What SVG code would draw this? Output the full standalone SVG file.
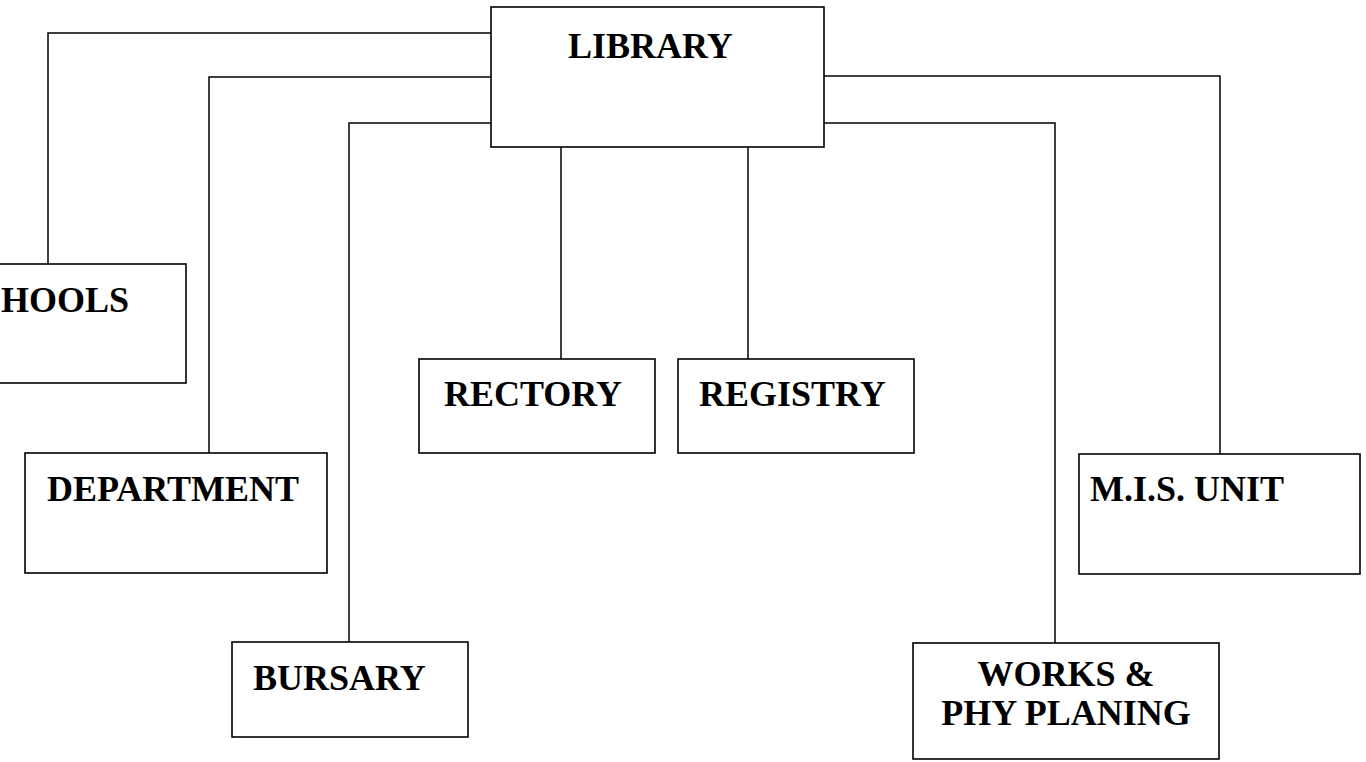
<svg xmlns="http://www.w3.org/2000/svg" width="1366" height="762" viewBox="0 0 1366 762">
<style>
.box{fill:#fff;stroke:#000;stroke-width:1.6}
.lbl{font-family:"Liberation Serif","Times New Roman",serif;font-weight:bold;font-size:36px;fill:#000}
.con{fill:none;stroke:#000;stroke-width:1.5}
</style>
<rect width="1366" height="762" fill="#fff"/>
<g id="connectors">
<path class="con" d="M491 33 H48 V264"/>
<path class="con" d="M491 77 H209 V453"/>
<path class="con" d="M491 123 H349 V642"/>
<path class="con" d="M561 147 V359"/>
<path class="con" d="M748 147 V359"/>
<path class="con" d="M824 76 H1220 V454"/>
<path class="con" d="M824 123 H1055 V643"/>
</g>
<g id="library"><rect class="box" x="491" y="7" width="333" height="140"/><text class="lbl" x="568" y="58">LIBRARY</text></g>
<g id="schools"><rect class="box" x="-10" y="264" width="196" height="119"/><text class="lbl" x="1" y="312">HOOLS</text></g>
<g id="rectory"><rect class="box" x="419" y="359" width="236" height="94"/><text class="lbl" x="444" y="406">RECTORY</text></g>
<g id="registry"><rect class="box" x="678" y="359" width="236" height="94"/><text class="lbl" x="699" y="406">REGISTRY</text></g>
<g id="department"><rect class="box" x="25" y="453" width="302" height="120"/><text class="lbl" x="47" y="501">DEPARTMENT</text></g>
<g id="mis-unit"><rect class="box" x="1079" y="454" width="281" height="120"/><text class="lbl" x="1090" y="501">M.I.S. UNIT</text></g>
<g id="bursary"><rect class="box" x="232" y="642" width="236" height="95"/><text class="lbl" x="253" y="690">BURSARY</text></g>
<g id="works"><rect class="box" x="913" y="643" width="306" height="116"/><text class="lbl" x="1066" y="686" text-anchor="middle">WORKS &amp;</text><text class="lbl" x="1066" y="725" text-anchor="middle">PHY PLANING</text></g>
</svg>
